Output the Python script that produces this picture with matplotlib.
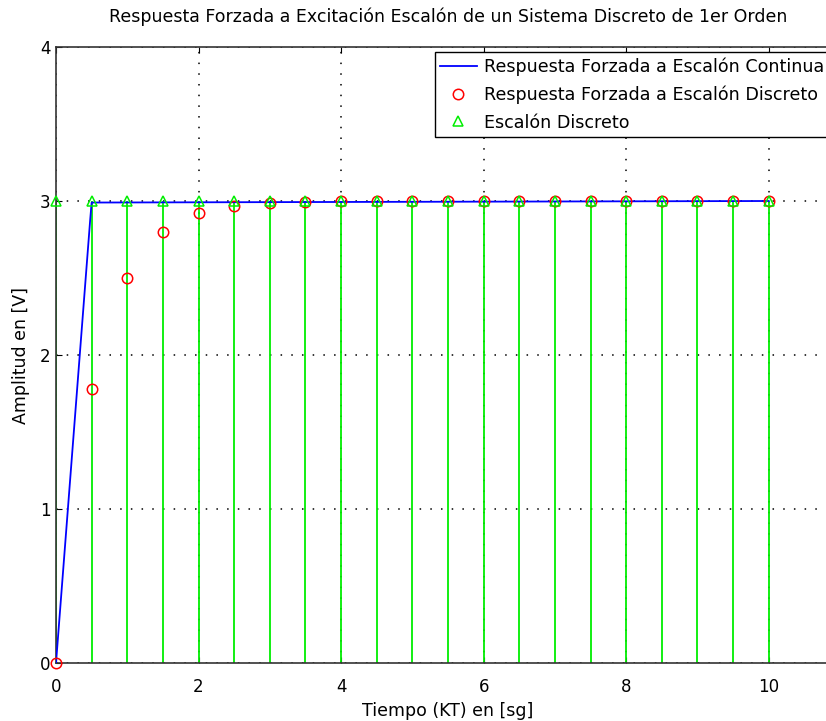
import numpy as np
import matplotlib
matplotlib.use("Agg")
import matplotlib.pyplot as plt

# discrete time samples, T = 0.5 s
t_disc = [0, 0.5, 1, 1.5, 2, 2.5, 3, 3.5, 4, 4.5, 5,
          5.5, 6, 6.5, 7, 7.5, 8, 8.5, 9, 9.5, 10]
# forced response of the discrete system (red circles)
y_disc = [0, 1.78, 2.50, 2.80, 2.92, 2.97, 2.99, 2.995, 3.0, 3.0, 3.0,
          3.0, 3.0, 3.0, 3.0, 3.0, 3.0, 3.0, 3.0, 3.0, 3.0]
# discrete step input (green stems)
u_disc = [3.0] * 21
# continuous forced response (blue)
t_cont = [0, 0.48, 0.5, 10]
y_cont = [0, 2.88, 2.99, 3.0]

plt.rcParams["font.family"] = ["DejaVu Sans"]

fig = plt.figure(figsize=(8.26, 7.21), dpi=100)
ax = fig.add_axes([56 / 826, 58 / 721, 784 / 826, 616 / 721])

ax.plot(t_cont, y_cont, color="blue", lw=1.3, label="Respuesta Forzada a Escalón Continua", zorder=3)
ax.plot(t_disc, y_disc, "o", color="red", mfc="none", ms=7.5, mew=1.1, lw=0,
        label="Respuesta Forzada a Escalón Discreto", zorder=4, clip_on=False)
ax.vlines(t_disc, 0, u_disc, color="#00ee00", lw=1.3, zorder=2)
ax.plot(t_disc, u_disc, "^", color="#00ee00", mfc="none", ms=7, mew=1.1, lw=0,
        label="Escalón Discreto", zorder=4, clip_on=False)

ax.set_xlim(0, 11)
ax.set_ylim(0, 4)
ax.set_xticks([0, 2, 4, 6, 8, 10])
ax.set_yticks([0, 1, 2, 3, 4])
ax.grid(True, linestyle=(0, (1, 6)), color="black", lw=1.1)
ax.set_axisbelow(True)
ax.tick_params(direction="in", length=4, top=True, right=True, labelsize=12)
ax.tick_params(axis="x", pad=11)
ax.tick_params(axis="y", pad=4)
for s in ax.spines.values():
    s.set_linewidth(1.2)
    s.set_color("#333333")

ax.set_title("Respuesta Forzada a Excitación Escalón de un Sistema Discreto de 1er Orden",
             fontsize=12.5, pad=18)
ax.set_xlabel("Tiempo (KT) en [sg]", fontsize=12.5, labelpad=4)
ax.set_ylabel("Amplitud en [V]", fontsize=12.5, labelpad=7)

leg = ax.legend(loc="upper right", bbox_to_anchor=((829 - 56) / 784, 1 - 5 / 616),
                borderaxespad=0, fontsize=12.6, fancybox=False, framealpha=1,
                edgecolor="black", handlelength=2.1, handletextpad=0.4,
                labelspacing=0.55, borderpad=0.3)
leg.get_frame().set_linewidth(1.0)
leg.set_zorder(10)

fig.savefig("out.png", dpi=100)
